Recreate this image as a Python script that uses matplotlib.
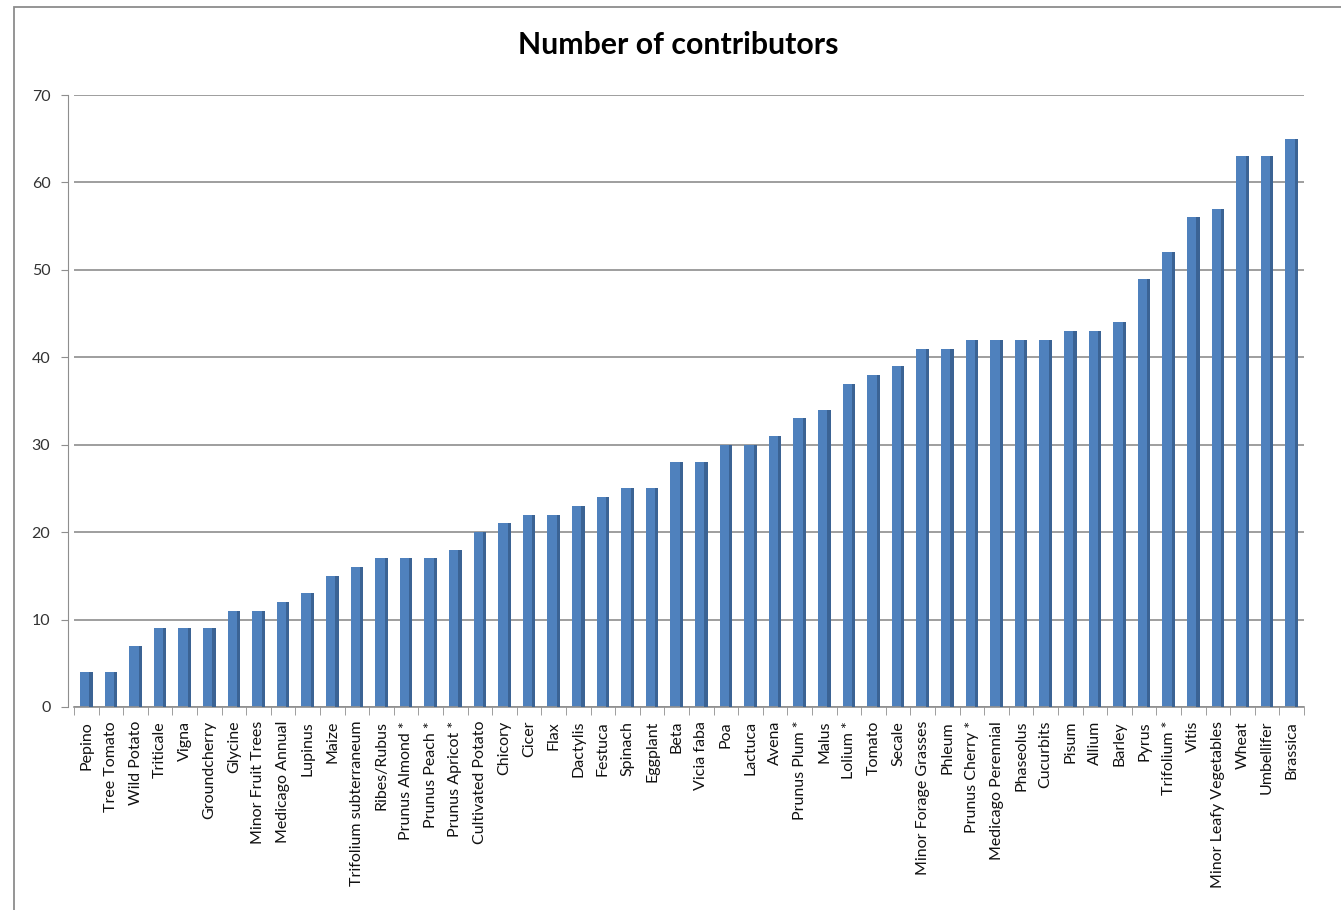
import matplotlib
matplotlib.use("Agg")
import matplotlib.pyplot as plt
from matplotlib.patches import Rectangle
import numpy as np

categories = ["Pepino", "Tree Tomato", "Wild Potato", "Triticale", "Vigna", "Groundcherry",
              "Glycine", "Minor Fruit Trees", "Medicago Annual", "Lupinus", "Maize",
              "Trifolium subterraneum", "Ribes/Rubus", "Prunus Almond *", "Prunus Peach *",
              "Prunus Apricot *", "Cultivated Potato", "Chicory", "Cicer", "Flax", "Dactylis",
              "Festuca", "Spinach", "Eggplant", "Beta", "Vicia faba", "Poa", "Lactuca", "Avena",
              "Prunus Plum *", "Malus", "Lolium *", "Tomato", "Secale", "Minor Forage Grasses",
              "Phleum", "Prunus Cherry *", "Medicago Perennial", "Phaseolus", "Cucurbits",
              "Pisum", "Allium", "Barley", "Pyrus", "Trifolium *", "Vitis",
              "Minor Leafy Vegetables", "Wheat", "Umbellifer", "Brassica"]
values = [4, 4, 7, 9, 9, 9, 11, 11, 12, 13, 15, 16, 17, 17, 17, 18, 20, 21, 22, 22, 23,
          24, 25, 25, 28, 28, 30, 30, 31, 33, 34, 37, 38, 39, 41, 41, 42, 42, 42, 42,
          43, 43, 44, 49, 52, 56, 57, 63, 63, 65]
yticks = [0, 10, 20, 30, 40, 50, 60, 70]
title = "Number of contributors"

plt.rcParams['font.family'] = ['Lato', 'DejaVu Sans']

W, H = 1341, 910
fig = plt.figure(figsize=(W / 100, H / 100), dpi=100)

# outer chart frame
fig.patches.append(Rectangle((14 / W, -0.01), 1.5, (H - 7) / H + 0.01,
                             transform=fig.transFigure, fill=False,
                             edgecolor="#8c8c8c", linewidth=1.3))

ax = fig.add_axes([74 / W, 203 / H, 1230 / W, 612 / H])
x = np.arange(len(categories))

ax.set_xlim(-0.5, len(categories) - 0.5)
ax.set_ylim(0, 70)

# gridlines
ax.set_yticks(yticks)
ax.yaxis.grid(True, color="#8e8e8e", linewidth=1.2)
ax.set_axisbelow(True)

# bars: front face + darker side for the Excel 3D look
ax.bar(x, values, width=0.52, color="#4F81BD", edgecolor="none", zorder=2)
ax.bar(x + 0.19, values, width=0.13, color="#3B6394", edgecolor="none", zorder=3)

for s in ["top", "right"]:
    ax.spines[s].set_visible(False)
ax.spines["left"].set_color("#8e8e8e")
ax.spines["left"].set_position(("outward", 4))
ax.spines["bottom"].set_color("#8e8e8e")
ax.spines["bottom"].set_linewidth(1.2)

ax.tick_params(axis="y", length=5, color="#8e8e8e", labelsize=11.5, labelcolor="#333333", pad=8)
ax.set_xticks(x)
ax.set_xticklabels(categories, rotation=90, fontsize=11.5, color="#111111")
ax.set_xticks(np.arange(-0.5, len(categories), 1), minor=True)
ax.tick_params(axis="x", which="major", length=0, pad=10)
ax.tick_params(axis="x", which="minor", length=6, color="#8e8e8e")

fig.text(678 / W, 1 - 45 / H, title, ha="center", va="center",
         fontsize=21.8, fontweight="bold", color="black")

fig.savefig("out.png", dpi=100)
